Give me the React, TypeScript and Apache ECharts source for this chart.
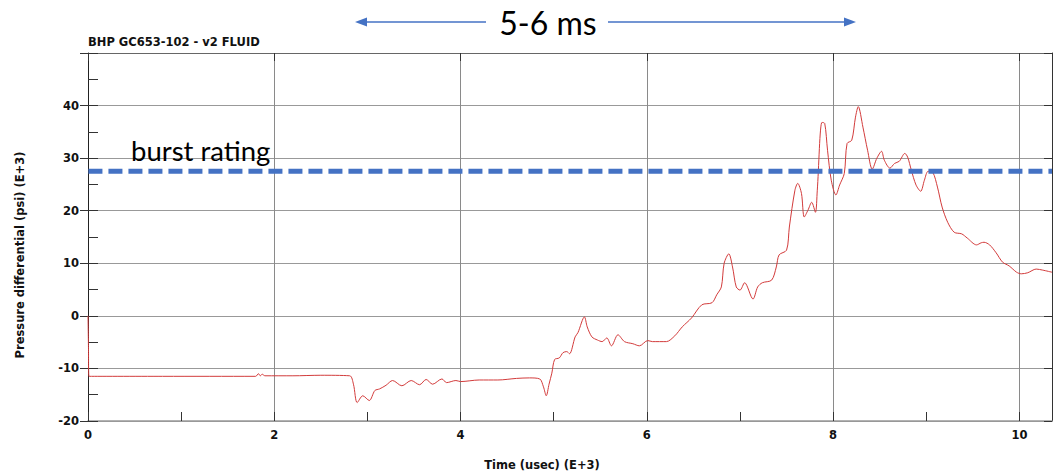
import React, { useEffect, useRef } from "react";
import * as echarts from "echarts";

const TITLE = "BHP GC653-102 - v2 FLUID";
const X_NAME = "Time (usec) (E+3)";
const Y_NAME = "Pressure differential (psi) (E+3)";
const SPAN_LABEL = "5-6 ms";
const BURST_LABEL = "burst rating";

const X_MIN = 0;
const X_MAX = 10.35;
const Y_MIN = -20;
const Y_MAX = 50;

const BURST_VALUE = 27.5;
const BURST_X = [-0.21, 10.35];

const TIME = [
  0, 0.005, 0.01, 0.8, 1.8, 1.83, 1.85, 1.87, 1.9, 2.2, 2.5, 2.81, 2.85, 2.89, 2.95, 3.02, 3.08, 3.13, 3.2, 3.27,
  3.37, 3.47, 3.56, 3.63, 3.7, 3.8, 3.85, 3.95, 4.0, 4.2, 4.4, 4.6, 4.74, 4.85, 4.89, 4.92, 4.95, 4.98, 5.01, 5.06,
  5.1, 5.14, 5.17, 5.23, 5.26, 5.33, 5.36, 5.41, 5.47, 5.52, 5.57, 5.62, 5.69, 5.76, 5.85, 5.92, 6.01, 6.06, 6.21, 6.3,
  6.38, 6.48, 6.59, 6.7, 6.75, 6.8, 6.83, 6.88, 6.92, 6.96, 7.0, 7.05, 7.14, 7.19, 7.24, 7.34, 7.39, 7.42, 7.5, 7.53,
  7.59, 7.62, 7.66, 7.69, 7.73, 7.77, 7.81, 7.83, 7.88, 7.91, 7.94, 7.98, 8.03, 8.07, 8.12, 8.15, 8.2, 8.24, 8.27, 8.32,
  8.37, 8.42, 8.47, 8.52, 8.55, 8.61, 8.66, 8.71, 8.77, 8.8, 8.84, 8.89, 8.94, 8.98, 9.02, 9.07, 9.12, 9.17, 9.23, 9.3,
  9.38, 9.44, 9.54, 9.59, 9.62, 9.68, 9.75, 9.82, 9.89, 9.97, 10.02, 10.09, 10.18, 10.25, 10.35,
];

const PRESSURE = [
  0, -5.8, -11.5, -11.5, -11.5, -11.0, -11.4, -11.1, -11.4, -11.4, -11.3, -11.4, -13.0, -16.5, -15.2, -16.1, -14.2, -13.9, -13.2, -12.3,
  -13.3, -12.3, -13.1, -12.1, -13.0, -12.0, -12.7, -12.3, -12.5, -12.2, -12.2, -11.9, -11.8, -12.0, -13.5, -15.2, -13.0, -10.9, -8.3, -8.0,
  -7.0, -6.8, -7.2, -4.0, -3.2, -0.2, -2.1, -4.0, -4.6, -4.9, -4.2, -5.7, -3.6, -4.9, -5.3, -5.7, -4.7, -4.9, -4.9, -3.8,
  -2.1, -0.4, 2.1, 2.5, 4.0, 5.5, 10.0, 11.8, 9.3, 5.5, 4.9, 6.3, 3.2, 5.5, 6.3, 6.8, 9.3, 11.6, 12.5, 16.9,
  23.9, 25.2, 23.3, 18.8, 20.1, 21.6, 19.7, 23.9, 36.8, 36.6, 31.5, 25.8, 23.0, 24.9, 27.1, 32.8, 33.4, 37.8, 39.8, 35.9,
  31.5, 27.9, 30.0, 31.3, 29.6, 28.1, 29.0, 29.4, 30.9, 30.2, 27.7, 24.9, 23.7, 25.8, 27.5, 27.3, 24.5, 20.7, 17.8, 15.9,
  15.6, 14.8, 13.5, 13.9, 14.0, 13.5, 12.0, 10.2, 9.5, 8.3, 8.0, 8.2, 8.9, 8.7, 8.3,
];

const AXIS_FONT = { fontFamily: "DejaVu Sans", fontWeight: "bold" as const, fontSize: 11.5, color: "#111" };
const BOLD_FONT = "bold 11.5px 'DejaVu Sans'";
const BLUE = "#4472C4";

export default function App() {
  const ref = useRef<HTMLDivElement>(null);

  useEffect(() => {
    if (!ref.current) return;
    const chart = echarts.init(ref.current, null, { renderer: "svg" });
    const curve = TIME.map((t, i) => [t, PRESSURE[i]]);
    const burst = BURST_X.map((x) => [x, BURST_VALUE]);

    chart.setOption({
      animation: false,
      backgroundColor: "#fff",
      grid: { left: 88, right: 5, top: 53, bottom: 54, containLabel: false },
      xAxis: [
        {
          type: "value",
          position: "bottom",
          min: X_MIN,
          max: X_MAX,
          interval: 1,
          axisLine: { show: true, onZero: false, lineStyle: { color: "#999", width: 1.5 } },
          axisTick: { show: true, inside: true, length: 9, lineStyle: { color: "#333" } },
          axisLabel: {
            ...AXIS_FONT,
            margin: 8,
            showMaxLabel: false,
            formatter: (v: number) => (Math.abs(v % 2) < 1e-9 ? String(v) : ""),
          },
          splitLine: { show: false },
        },
        {
          type: "value",
          position: "top",
          min: X_MIN,
          max: X_MAX,
          interval: 2,
          axisLine: { show: true, onZero: false, lineStyle: { color: "#666" } },
          axisTick: { show: true, inside: true, length: 8, lineStyle: { color: "#333" } },
          axisLabel: { show: false },
          splitLine: { show: true, lineStyle: { color: "#8a8a8a", width: 1 } },
        },
      ],
      yAxis: [
        {
          type: "value",
          position: "left",
          min: Y_MIN,
          max: Y_MAX,
          interval: 5,
          axisLine: { show: true, onZero: false, lineStyle: { color: "#222" } },
          axisTick: { show: true, inside: true, length: 10, lineStyle: { color: "#333" } },
          axisLabel: {
            ...AXIS_FONT,
            margin: 9,
            formatter: (v: number) => (v % 10 === 0 && v !== Y_MAX ? String(v) : ""),
          },
          splitLine: { show: false },
        },
        {
          type: "value",
          position: "left",
          offset: 0,
          min: Y_MIN,
          max: Y_MAX,
          interval: 10,
          axisLine: { show: false, onZero: false },
          axisTick: { show: true, inside: false, length: 8, lineStyle: { color: "#333" } },
          axisLabel: { show: false },
          splitLine: { show: false },
        },
        {
          type: "value",
          position: "right",
          min: Y_MIN,
          max: Y_MAX,
          interval: 10,
          axisLine: { show: true, onZero: false, lineStyle: { color: "#333" } },
          axisTick: { show: true, inside: true, length: 8, lineStyle: { color: "#333" } },
          axisLabel: { show: false },
          splitLine: { show: true, lineStyle: { color: "#999", width: 1 } },
        },
      ],
      series: [
        {
          type: "line",
          name: "pressure",
          xAxisIndex: 0,
          yAxisIndex: 0,
          data: curve,
          showSymbol: false,
          symbol: "none",
          smooth: 0.3,
          lineStyle: { color: "#d23b3b", width: 1 },
          z: 3,
        },
        {
          type: "line",
          name: "burst",
          xAxisIndex: 0,
          yAxisIndex: 0,
          data: burst,
          clip: false,
          showSymbol: false,
          symbol: "none",
          lineStyle: { color: BLUE, width: 5, type: [14, 6] },
          z: 4,
        },
      ],
      graphic: [
        {
          type: "text",
          left: 88,
          top: 36,
          style: { text: TITLE, fill: "#111", font: BOLD_FONT },
        },
        {
          type: "text",
          x: 542,
          y: 465,
          style: {
            text: X_NAME,
            fill: "#111",
            font: BOLD_FONT,
            align: "center",
            verticalAlign: "middle",
          },
        },
        {
          type: "text",
          x: 20,
          y: 255,
          rotation: Math.PI / 2,
          style: {
            text: Y_NAME,
            fill: "#111",
            font: BOLD_FONT,
            align: "center",
            verticalAlign: "middle",
          },
        },
        {
          type: "text",
          x: 131,
          y: 150,
          style: {
            text: BURST_LABEL,
            fill: "#000",
            font: "27.5px Lato",
            align: "left",
            verticalAlign: "middle",
          },
          z: 10,
        },
        {
          type: "text",
          x: 548,
          y: 22,
          style: {
            text: SPAN_LABEL,
            fill: "#000",
            font: "32px Lato",
            align: "center",
            verticalAlign: "middle",
          },
          z: 10,
        },
        {
          type: "line",
          shape: { x1: 362, y1: 22, x2: 486, y2: 22 },
          style: { stroke: BLUE, lineWidth: 1.5 },
          z: 10,
        },
        {
          type: "polygon",
          shape: { points: [[355, 22], [367, 17.5], [367, 26.5]] },
          style: { fill: BLUE },
          z: 10,
        },
        {
          type: "line",
          shape: { x1: 608, y1: 22, x2: 848, y2: 22 },
          style: { stroke: BLUE, lineWidth: 1.5 },
          z: 10,
        },
        {
          type: "polygon",
          shape: { points: [[856, 22], [844, 17.5], [844, 26.5]] },
          style: { fill: BLUE },
          z: 10,
        },
      ],
    });

    return () => chart.dispose();
  }, []);

  return (
    <div
      ref={ref}
      style={{ position: "fixed", left: 0, top: 0, width: 1057, height: 475, background: "#fff" }}
    />
  );
}
